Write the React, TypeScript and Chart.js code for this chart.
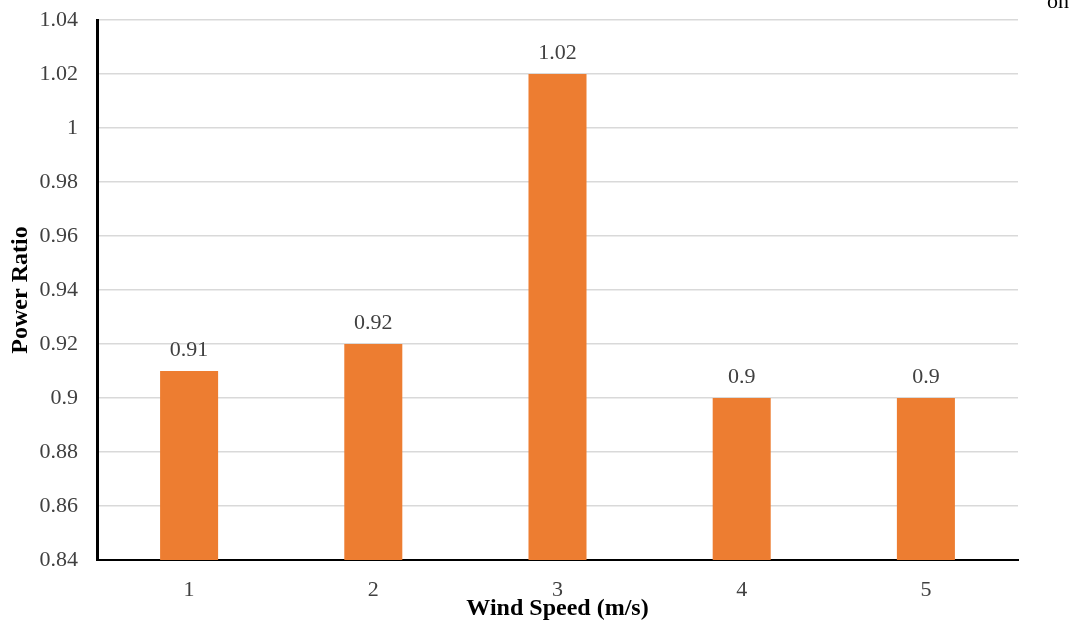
import React, { useEffect, useRef } from "react";
import { Chart, registerables } from "chart.js";

Chart.register(...registerables);

const categories = ["1", "2", "3", "4", "5"];
const powerRatio = [0.91, 0.92, 1.02, 0.9, 0.9];
const yMin = 0.84;
const yMax = 1.04;
const yStep = 0.02;

const SERIF = "'Liberation Serif', 'Times New Roman', serif";

const dataLabels = {
  id: "dataLabels",
  afterDatasetsDraw(chart: any) {
    const ctx = chart.ctx;
    const meta = chart.getDatasetMeta(0);
    ctx.save();
    ctx.font = `22px ${SERIF}`;
    ctx.fillStyle = "#404040";
    ctx.textAlign = "center";
    ctx.textBaseline = "alphabetic";
    meta.data.forEach((bar: any, i: number) => {
      const v = chart.data.datasets[0].data[i];
      ctx.fillText(String(v), bar.x, bar.y - 15);
    });
    ctx.fillStyle = "#000";
    ctx.textAlign = "left";
    ctx.fillText("on", 1047, 8);
    ctx.restore();
  },
};

export default function App() {
  const ref = useRef<HTMLCanvasElement>(null);
  useEffect(() => {
    const chart = new Chart(ref.current!, {
      type: "bar",
      data: {
        labels: categories,
        datasets: [
          {
            data: powerRatio,
            backgroundColor: "#ED7D31",
            barPercentage: 0.63,
            categoryPercentage: 0.5,
          },
        ],
      },
      options: {
        animation: false,
        responsive: false,
        maintainAspectRatio: false,
        layout: { padding: { left: 0, right: 53, top: 20, bottom: 0 } },
        plugins: { legend: { display: false }, tooltip: { enabled: false } },
        scales: {
          x: {
            grid: { display: false, drawTicks: false },
            border: { display: true, color: "#000", width: 2 },
            ticks: {
              color: "#404040",
              font: { family: SERIF, size: 22 },
              padding: 17,
            },
            title: {
              display: true,
              text: "Wind Speed (m/s)",
              color: "#000",
              font: { family: SERIF, size: 24, weight: "bold" },
              padding: { top: 0, bottom: 1 },
            },
            afterFit(scale: any) {
              scale.height = 64;
              scale.paddingLeft = 0;
              scale.paddingRight = 0;
            },
          },
          y: {
            min: yMin,
            max: yMax,
            ticks: {
              stepSize: yStep,
              color: "#404040",
              font: { family: SERIF, size: 22 },
              padding: 19,
              callback: (v: any) => String(Math.round(Number(v) * 100) / 100),
            },
            grid: { color: "#d9d9d9", lineWidth: 1.5, drawTicks: false },
            border: { display: true, color: "#000", width: 3 },
            title: {
              display: true,
              text: "Power Ratio",
              color: "#000",
              font: { family: SERIF, size: 24, weight: "bold" },
              padding: { top: 6, bottom: 0 },
            },
            afterFit(scale: any) {
              scale.width = 97;
              scale.paddingTop = 0;
              scale.paddingBottom = 0;
            },
          },
        },
      },
      plugins: [dataLabels],
    });
    return () => chart.destroy();
  }, []);
  return (
    <div style={{ position: "fixed", left: 0, top: 0, width: 1071, height: 624, background: "#fff" }}>
      <canvas ref={ref} width={1071} height={624} style={{ display: "block" }} />
    </div>
  );
}
